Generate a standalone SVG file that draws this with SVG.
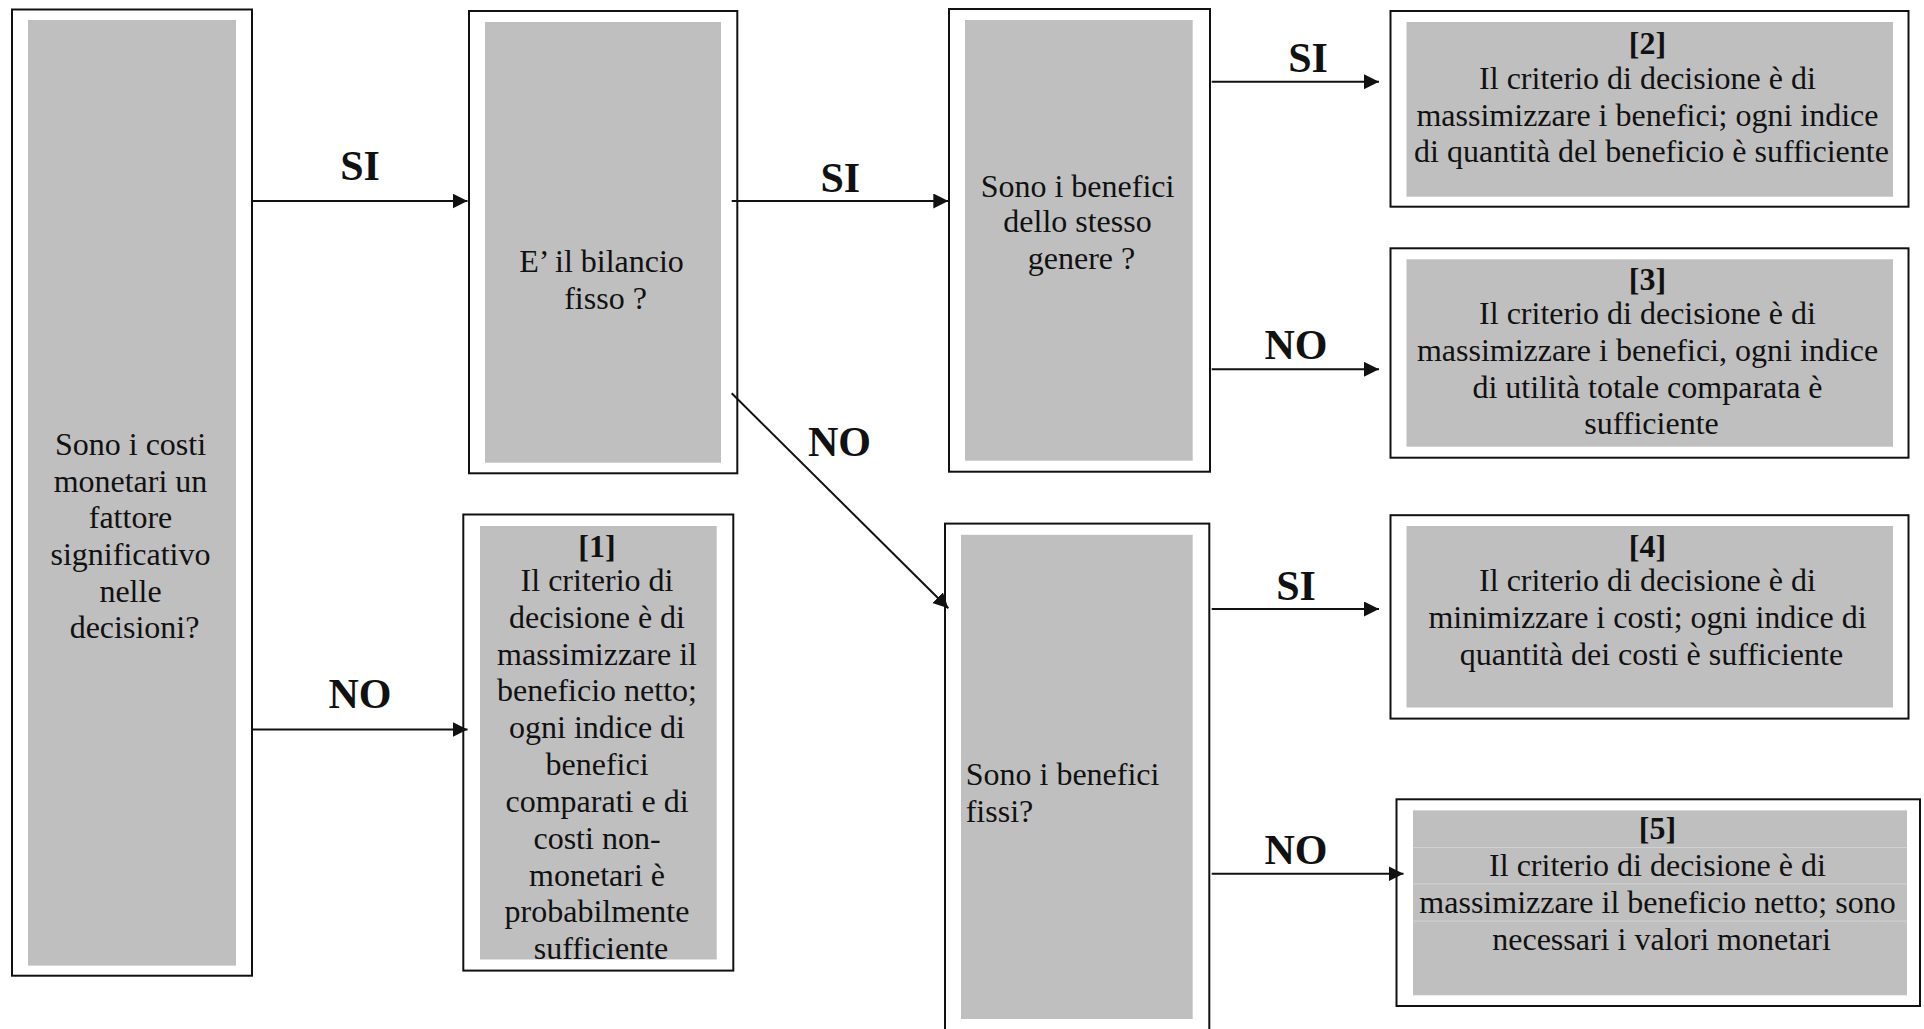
<svg xmlns="http://www.w3.org/2000/svg" width="1924" height="1029" viewBox="0 0 1924 1029">
  <style>
    .outer { fill: #ffffff; stroke: #111111; stroke-width: 2; }
    .inner { fill: #bfbfbf; }
    .t { font-family: "Liberation Serif", "Times New Roman", serif; font-size: 32px; fill: #111111; }
    .c { text-anchor: middle; }
    .b { font-weight: bold; }
    .lbl { font-family: "Liberation Serif", "Times New Roman", serif; font-size: 42px; font-weight: bold; fill: #111111; text-anchor: middle; }
    .edge { stroke: #111111; stroke-width: 2; fill: none; marker-end: url(#arrow); }
    .row { stroke: #d2d2d2; stroke-width: 1; }
  </style>
  <defs>
    <marker id="arrow" markerUnits="userSpaceOnUse" markerWidth="16" markerHeight="16" refX="15" refY="7.5" orient="auto">
      <path d="M0,0 L15,7.5 L0,15 Z" fill="#111111"/>
    </marker>
    <clipPath id="clip-r1">
      <rect x="480" y="526" width="236.7" height="433.5"/>
    </clipPath>
  </defs>

  <rect x="0" y="0" width="1924" height="1029" fill="#ffffff"/>

  <!-- Question: are monetary costs significant? -->
  <g id="q-costi">
    <rect class="outer" x="12" y="9.5" width="240" height="966.2"/>
    <rect class="inner" x="28" y="20" width="208" height="945.6"/>
    <text class="t c">
      <tspan x="134.5" y="455">Sono i costi</tspan>
      <tspan x="134.5" y="491.5">monetari un</tspan>
      <tspan x="134.5" y="528">fattore</tspan>
      <tspan x="134.5" y="564.5">significativo</tspan>
      <tspan x="134.5" y="601.5">nelle</tspan>
      <tspan x="134.5" y="638">decisioni?</tspan>
    </text>
  </g>

  <!-- Question: is the budget fixed? -->
  <g id="q-bilancio">
    <rect class="outer" x="469" y="11" width="268.3" height="462.3"/>
    <rect class="inner" x="485" y="22" width="236" height="440.7"/>
    <text class="t c">
      <tspan x="605.5" y="271.7">E’ il bilancio</tspan>
      <tspan x="605.5" y="309.3">fisso ?</tspan>
    </text>
  </g>

  <!-- Question: are the benefits of the same kind? -->
  <g id="q-genere">
    <rect class="outer" x="949" y="9" width="261" height="462.7"/>
    <rect class="inner" x="965" y="20" width="227.7" height="440.7"/>
    <text class="t c">
      <tspan x="1081.5" y="196.7">Sono i benefici</tspan>
      <tspan x="1081.5" y="232.3">dello stesso</tspan>
      <tspan x="1081.5" y="269.3">genere ?</tspan>
    </text>
  </g>

  <!-- Question: are the benefits fixed? -->
  <g id="q-fissi">
    <rect class="outer" x="945" y="523.6" width="264.3" height="507.4"/>
    <rect class="inner" x="961" y="534.8" width="231.7" height="484.2"/>
    <text class="t">
      <tspan x="965.7" y="785.1">Sono i benefici</tspan>
      <tspan x="965.7" y="821.5">fissi?</tspan>
    </text>
  </g>

  <!-- Outcome [1] -->
  <g id="r1">
    <rect class="outer" x="463.3" y="514.5" width="270" height="456.1"/>
    <rect class="inner" x="480" y="526" width="236.7" height="433.5"/>
    <text class="t c" clip-path="url(#clip-r1)">
      <tspan class="b" x="601" y="557.4">[1]</tspan>
      <tspan x="601" y="591.1">Il criterio di</tspan>
      <tspan x="601" y="628.2">decisione è di</tspan>
      <tspan x="601" y="665.3">massimizzare il</tspan>
      <tspan x="601" y="701.4">beneficio netto;</tspan>
      <tspan x="601" y="737.9">ogni indice di</tspan>
      <tspan x="601" y="775">benefici</tspan>
      <tspan x="601" y="812.1">comparati e di</tspan>
      <tspan x="601" y="848.5">costi non-</tspan>
      <tspan x="601" y="885.6">monetari è</tspan>
      <tspan x="601" y="921.7">probabilmente</tspan>
      <tspan x="601" y="958.8">sufficiente</tspan>
    </text>
  </g>

  <!-- Outcome [2] -->
  <g id="r2">
    <rect class="outer" x="1390.5" y="11" width="518" height="195.7"/>
    <rect class="inner" x="1406.5" y="22" width="486.5" height="174.7"/>
    <text class="t c">
      <tspan class="b" x="1651.5" y="54.3">[2]</tspan>
      <tspan x="1651.5" y="89.3">Il criterio di decisione è di</tspan>
      <tspan x="1651.5" y="126">massimizzare i benefici; ogni indice</tspan>
      <tspan x="1651.5" y="162.3">di quantità del beneficio è sufficiente</tspan>
    </text>
  </g>

  <!-- Outcome [3] -->
  <g id="r3">
    <rect class="outer" x="1390.5" y="248.3" width="518" height="209.4"/>
    <rect class="inner" x="1406.5" y="259.3" width="486.5" height="187.4"/>
    <text class="t c">
      <tspan class="b" x="1651.5" y="290">[3]</tspan>
      <tspan x="1651.5" y="323.5">Il criterio di decisione è di</tspan>
      <tspan x="1651.5" y="361">massimizzare i benefici, ogni indice</tspan>
      <tspan x="1651.5" y="398.3">di utilità totale comparata è</tspan>
      <tspan x="1651.5" y="434.3">sufficiente</tspan>
    </text>
  </g>

  <!-- Outcome [4] -->
  <g id="r4">
    <rect class="outer" x="1390.5" y="515.2" width="518" height="203.4"/>
    <rect class="inner" x="1406.5" y="526" width="486.5" height="181.5"/>
    <text class="t c">
      <tspan class="b" x="1651.5" y="557.4">[4]</tspan>
      <tspan x="1651.5" y="591.1">Il criterio di decisione è di</tspan>
      <tspan x="1651.5" y="628.2">minimizzare i costi; ogni indice di</tspan>
      <tspan x="1651.5" y="665.3">quantità dei costi è sufficiente</tspan>
    </text>
  </g>

  <!-- Outcome [5] -->
  <g id="r5">
    <rect class="outer" x="1396.5" y="799.3" width="523.5" height="206.7"/>
    <rect class="inner" x="1413" y="810.4" width="494" height="184.9"/>
    <line class="row" x1="1413" y1="847.5" x2="1907" y2="847.5"/>
    <line class="row" x1="1413" y1="883.9" x2="1907" y2="883.9"/>
    <line class="row" x1="1413" y1="921.1" x2="1907" y2="921.1"/>
    <text class="t c">
      <tspan class="b" x="1661.5" y="838.5">[5]</tspan>
      <tspan x="1661.5" y="876.2">Il criterio di decisione è di</tspan>
      <tspan x="1661.5" y="913.3">massimizzare il beneficio netto; sono</tspan>
      <tspan x="1661.5" y="950.4">necessari i valori monetari</tspan>
    </text>
  </g>

  <!-- Connectors with their SI / NO labels -->
  <g id="connectors">
    <line class="edge" x1="252" y1="201" x2="467.5" y2="201"/>
    <text class="lbl" x="360" y="180">SI</text>

    <line class="edge" x1="252" y1="729.4" x2="467.5" y2="729.4"/>
    <text class="lbl" x="360" y="707.5">NO</text>

    <line class="edge" x1="731.7" y1="201" x2="948.3" y2="201"/>
    <text class="lbl" x="840.3" y="191.7">SI</text>

    <line class="edge" x1="731.7" y1="393.3" x2="948.3" y2="608.3"/>
    <text class="lbl" x="839.5" y="456">NO</text>

    <line class="edge" x1="1211.7" y1="81.7" x2="1379" y2="81.7"/>
    <text class="lbl" x="1308" y="71.7">SI</text>

    <line class="edge" x1="1211.7" y1="369.3" x2="1379" y2="369.3"/>
    <text class="lbl" x="1296" y="359.3">NO</text>

    <line class="edge" x1="1211.7" y1="609" x2="1379" y2="609"/>
    <text class="lbl" x="1296" y="599.5">SI</text>

    <line class="edge" x1="1211.7" y1="873.8" x2="1403.5" y2="873.8"/>
    <text class="lbl" x="1296" y="863.7">NO</text>
  </g>
</svg>
